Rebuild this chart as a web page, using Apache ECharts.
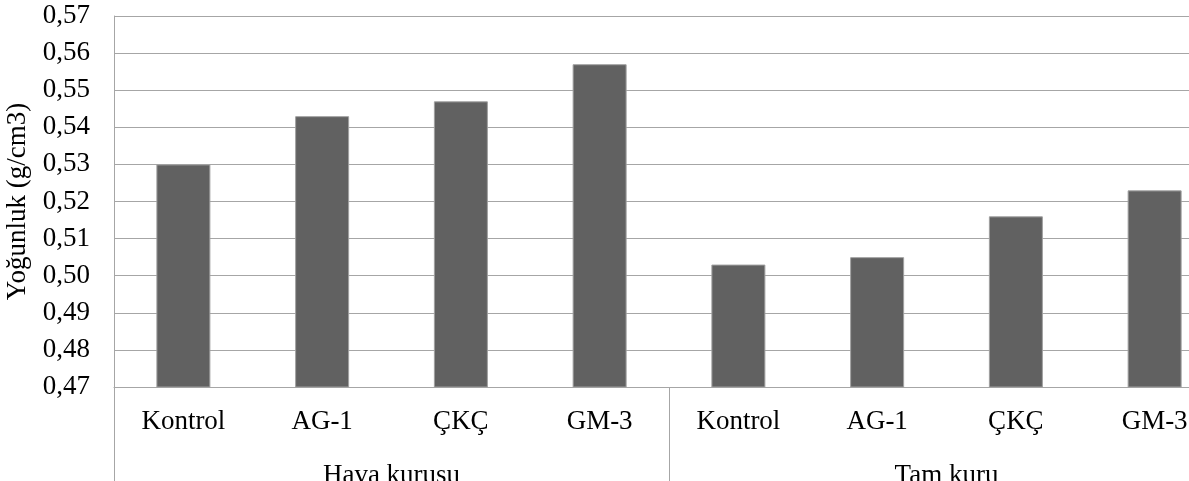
<!DOCTYPE html>
<html>
<head>
<meta charset="utf-8">
<script src="https://cdn.jsdelivr.net/npm/echarts@6/dist/echarts.min.js"></script>
<style>
  html, body { margin: 0; padding: 0; background: #ffffff; overflow: hidden; }
  #chart { width: 1189px; height: 481px; }
</style>
</head>
<body>
<div id="chart"></div>
<script>
// Density by treatment, grouped by drying condition
const treatments = ['Kontrol', 'AG-1', 'ÇKÇ', 'GM-3'];
const groups = ['Hava kurusu', 'Tam kuru'];
const havaKurusu = [0.530, 0.543, 0.547, 0.557];
const tamKuru = [0.503, 0.505, 0.516, 0.523];
const yMin = 0.47;
const yMax = 0.57;
const yStep = 0.01;
const yAxisTitle = 'Yoğunluk (g/cm3)';

const categories = groups.flatMap(() => treatments);
const values = havaKurusu.concat(tamKuru);

const FONT = '"Liberation Serif", "Times New Roman", serif';
const LINE = '#a6a6a6';

const chart = echarts.init(document.getElementById('chart'), null, { renderer: 'canvas' });
chart.setOption({
  backgroundColor: '#ffffff',
  animation: false,
  // the plot runs past the right edge of the view
  grid: {
    left: 114, top: 16, right: -35, bottom: 94,
    containLabel: false, outerBoundsMode: 'none'
  },
  xAxis: [
    {
      type: 'category',
      data: categories,
      position: 'bottom',
      axisLine: { show: true, lineStyle: { color: LINE, width: 1 } },
      axisTick: { show: false },
      axisLabel: {
        interval: 0, margin: 21,
        fontFamily: FONT, fontSize: 27, color: '#000000'
      },
      splitLine: { show: false }
    },
    {
      type: 'category',
      data: groups,
      position: 'bottom',
      boundaryGap: true,
      axisLine: { show: false },
      axisTick: { show: true, interval: 0, length: 100, lineStyle: { color: LINE, width: 1 } },
      axisLabel: {
        interval: 0, margin: 75,
        fontFamily: FONT, fontSize: 27, color: '#000000'
      },
      splitLine: { show: false }
    }
  ],
  yAxis: {
    type: 'value',
    min: yMin, max: yMax, interval: yStep,
    name: yAxisTitle,
    nameLocation: 'middle',
    nameRotate: 90,
    nameGap: 77,
    nameTextStyle: { fontFamily: FONT, fontSize: 27, color: '#000000' },
    axisLine: { show: true, lineStyle: { color: LINE, width: 1 } },
    axisTick: { show: false },
    axisLabel: {
      margin: 24,
      fontFamily: FONT, fontSize: 27, color: '#000000',
      formatter: v => v.toFixed(2).replace('.', ',')
    },
    splitLine: { show: true, lineStyle: { color: LINE, width: 1 } }
  },
  series: [{
    type: 'bar',
    xAxisIndex: 0,
    data: values,
    barWidth: 54,
    itemStyle: { color: '#616161', borderColor: '#a0a0a0', borderWidth: 1 },
    clip: true
  }]
});
</script>
</body>
</html>
